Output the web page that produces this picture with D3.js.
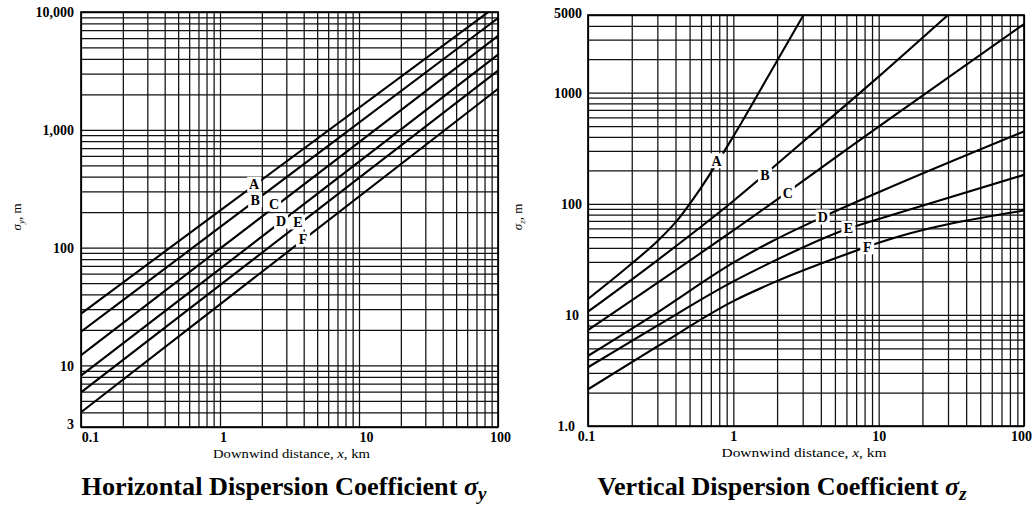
<!DOCTYPE html>
<html><head><meta charset="utf-8">
<script src="https://cdn.jsdelivr.net/npm/d3@7"></script>
<style>
body{margin:0;background:#fff}
svg{display:block}
text{font-family:"Liberation Serif","Times New Roman",serif;fill:#000}
</style>
</head><body>
<svg id="c" width="1034" height="508"></svg>
<script>
// ---------- DATA ----------
const classes = ["A","B","C","D","E","F"];

// Horizontal dispersion coefficient sigma_y (m) vs downwind distance (km)
const syDist = [0.1, 1, 100];
const syA = [27.5, 206, 11500];
const syB = [19.3, 149, 8870];
const syC = [12.2, 98, 6280];
const syD = [8.2, 66, 4340];
const syE = [5.9, 48, 3180];
const syF = [4.0, 33, 2225];
// label positions (km, m)
const syLabelDist = [1.76, 1.79, 2.45, 2.75, 3.64, 3.95];
const syLabelVal  = [345, 255, 234, 168, 165, 118];

// Vertical dispersion coefficient sigma_z (m) vs downwind distance (km)
const szDistA = [0.1, 0.2, 0.3, 0.4, 0.6, 1, 1.79, 3.04];
const szA     = [13.9, 29, 46, 68, 140, 404, 1500, 5000];
const szDistB = [0.1, 0.3, 1, 3, 10, 30];
const szB     = [10.7, 31, 106, 360, 1394, 5000];
const szDistC = [0.1, 1, 10, 100];
const szC     = [7.3, 57.5, 495, 4150];
const szDistD = [0.1, 0.3, 1, 1.85, 4.12, 10, 100];
const szD     = [4.28, 10.5, 29.5, 46, 76, 127, 448];
const szDistE = [0.1, 0.3, 1, 1.85, 6.19, 10, 100];
const szE     = [3.38, 8.0, 20, 30, 60, 73, 182];
const szDistF = [0.1, 0.3, 1, 1.85, 8.35, 10, 100];
const szF     = [2.14, 5.2, 13.3, 19.3, 41, 44.5, 87];
const szLabelDist = [0.766, 1.65, 2.37, 4.12, 6.19, 8.35];
const szLabelVal  = [244, 182, 126, 76, 60, 41];

// Tick labels
const xTickVals = [0.1, 1, 10, 100];
const xTickLabels = ["0.1", "1", "10", "100"];
const syTickVals = [10000, 1000, 100, 10, 3];
const syTickLabels = ["10,000", "1,000", "100", "10", "3"];
const szTickVals = [5000, 1000, 100, 10, 1];
const szTickLabels = ["5000", "1000", "100", "10", "1.0"];

const syTitle = "Horizontal Dispersion Coefficient ";
const szTitle = "Vertical Dispersion Coefficient ";

// ---------- DRAW ----------
const svg = d3.select("#c");

function panel(opt){
  const g = svg.append("g");
  const x = d3.scaleLog().domain([0.1, 100]).range([opt.x0, opt.x1]);
  const y = d3.scaleLog().domain(opt.yDomain).range([opt.y1, opt.y0]);
  const w = opt.x1 - opt.x0, h = opt.y1 - opt.y0;

  // grid
  const gx = g.append("g").attr("transform", `translate(0,${opt.y1})`)
    .call(d3.axisBottom(x).tickValues(x.ticks()).tickSize(-h).tickFormat(""));
  const gy = g.append("g").attr("transform", `translate(${opt.x0},0)`)
    .call(d3.axisLeft(y).tickValues(y.ticks()).tickSize(-w).tickFormat(""));
  [gx, gy].forEach(a => {
    a.select(".domain").remove();
    a.selectAll("line").attr("stroke", "#111").attr("stroke-width", 1.25);
  });

  // frame
  g.append("rect").attr("x", opt.x0).attr("y", opt.y0).attr("width", w).attr("height", h)
    .attr("fill", "none").attr("stroke", "#000").attr("stroke-width", 1.7);

  // curves
  const clipId = "clip" + opt.id;
  svg.append("clipPath").attr("id", clipId).append("rect")
    .attr("x", opt.x0).attr("y", opt.y0).attr("width", w).attr("height", h);
  const line = d3.line().x(d => x(d[0])).y(d => y(d[1])).curve(d3.curveMonotoneX);
  const cg = g.append("g").attr("clip-path", `url(#${clipId})`);
  opt.series.forEach(s => {
    cg.append("path").datum(d3.zip(s.dist, s.vals)).attr("d", line)
      .attr("fill", "none").attr("stroke", "#000").attr("stroke-width", 2.1);
  });

  // curve labels with white backgrounds
  classes.forEach((c, i) => {
    const lx = x(opt.labDist[i]), ly = y(opt.labVal[i]);
    g.append("rect").attr("x", lx - 7).attr("y", ly - 7.5).attr("width", 14).attr("height", 15).attr("fill", "#fff");
    g.append("text").attr("x", lx).attr("y", ly + 5).attr("text-anchor", "middle")
      .attr("font-size", 14).attr("font-weight", "bold").text(c);
  });

  // x tick labels
  const ax = g.append("g").attr("transform", `translate(0,${opt.y1})`)
    .call(d3.axisBottom(x).tickValues(xTickVals).tickSize(0).tickPadding(0)
      .tickFormat((d, i) => xTickLabels[i]));
  ax.select(".domain").remove();
  ax.selectAll("text").attr("y", 15).attr("dy", 0).attr("dx", (d, i) => opt.xLabDx[i])
    .attr("font-size", 14).attr("font-weight", "bold")
    .style("font-family", '"Liberation Serif",serif').attr("fill", "#000");

  // y tick labels
  const ay = g.append("g").attr("transform", `translate(${opt.x0},0)`)
    .call(d3.axisLeft(y).tickValues(opt.yTickVals).tickSize(0).tickPadding(0)
      .tickFormat((d, i) => opt.yTickLabels[i]));
  ay.select(".domain").remove();
  ay.selectAll("text").attr("x", (d, i) => -opt.yLabPad[i]).attr("dy", (d, i) => opt.yLabDy[i])
    .attr("font-size", 14).attr("font-weight", "bold")
    .style("font-family", '"Liberation Serif",serif').attr("fill", "#000");

  // axis title
  const xt = g.append("text").attr("x", (opt.x0 + opt.x1) / 2 + opt.xTitleDx).attr("y", opt.y1 + 31)
    .attr("text-anchor", "middle").attr("font-size", 13.5)
    .attr("textLength", opt.xTitleLen).attr("lengthAdjust", "spacingAndGlyphs");
  xt.append("tspan").text("Downwind distance, ");
  xt.append("tspan").attr("font-style", "italic").text("x");
  xt.append("tspan").text(", km");

  // y axis title (sigma, m)
  const yt = g.append("text").attr("transform", `translate(${opt.yTitleX},${opt.yTitleY}) rotate(-90)`)
    .attr("text-anchor", "middle").attr("font-size", 13);
  yt.append("tspan").attr("font-style", "italic").text("σ");
  yt.append("tspan").attr("font-size", 9).attr("dy", 3).attr("font-style", "italic").text(opt.sub);
  yt.append("tspan").attr("dy", -3).text(", m");

  // main title
  const tt = g.append("text").attr("x", opt.titleX).attr("y", 495)
    .attr("text-anchor", "middle").attr("font-size", 25).attr("font-weight", "bold")
    .attr("textLength", opt.titleLen).attr("lengthAdjust", "spacingAndGlyphs");
  tt.append("tspan").text(opt.title);
  tt.append("tspan").attr("font-style", "italic").text("σ");
  tt.append("tspan").attr("font-style", "italic").attr("font-size", 18).attr("dy", 5).text(opt.sub);
}

panel({
  id: "L", x0: 81, x1: 498, y0: 12, y1: 427, yDomain: [3, 10000],
  series: [
    {dist: syDist, vals: syA}, {dist: syDist, vals: syB}, {dist: syDist, vals: syC},
    {dist: syDist, vals: syD}, {dist: syDist, vals: syE}, {dist: syDist, vals: syF}
  ],
  labDist: syLabelDist, labVal: syLabelVal,
  yTickVals: syTickVals, yTickLabels: syTickLabels,
  yLabPad: [7, 7, 7, 7, 7], yLabDy: ["0.35em", "0.35em", "0.35em", "0.35em", "0.1em"],
  xLabDx: [9, 3, 7, 2],
  xTitleDx: 2, xTitleLen: 157, yTitleX: 21, yTitleY: 217, sub: "y",
  title: syTitle, titleX: 284, titleLen: 405
});

panel({
  id: "R", x0: 588, x1: 1024, y0: 15, y1: 426, yDomain: [1, 5000],
  series: [
    {dist: szDistA, vals: szA}, {dist: szDistB, vals: szB}, {dist: szDistC, vals: szC},
    {dist: szDistD, vals: szD}, {dist: szDistE, vals: szE}, {dist: szDistF, vals: szF}
  ],
  labDist: szLabelDist, labVal: szLabelVal,
  yTickVals: szTickVals, yTickLabels: szTickLabels,
  yLabPad: [6, 6, 6, 9, 13], yLabDy: ["0.2em", "0.35em", "0.35em", "0.35em", "0.3em"],
  xLabDx: [-2, 0, 0, -3],
  xTitleDx: -2, xTitleLen: 165, yTitleX: 522, yTitleY: 217, sub: "z",
  title: szTitle, titleX: 782, titleLen: 369
});
</script>
</body></html>
